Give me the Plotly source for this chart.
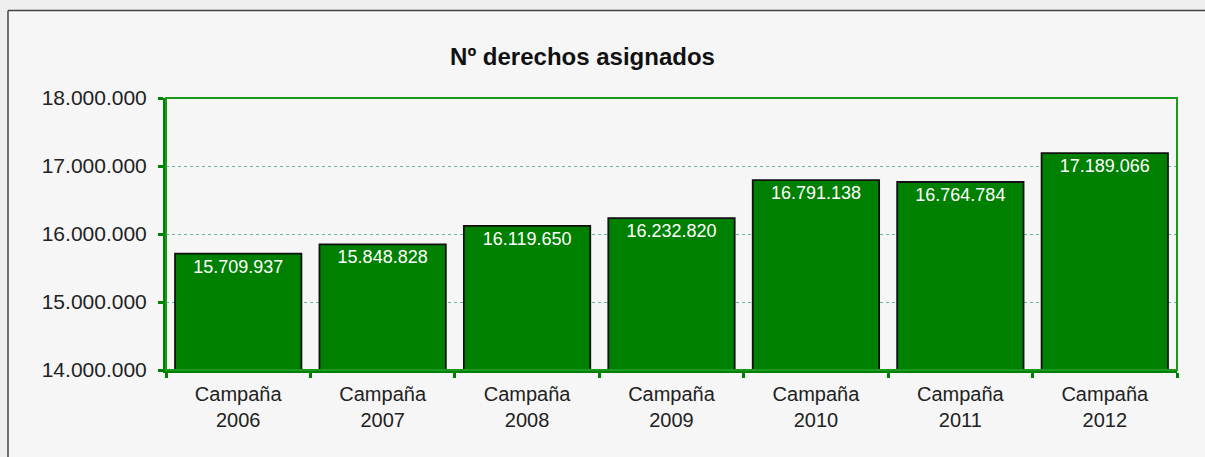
import plotly.graph_objects as go

campaigns = ["Campaña<br>2006", "Campaña<br>2007", "Campaña<br>2008", "Campaña<br>2009",
             "Campaña<br>2010", "Campaña<br>2011", "Campaña<br>2012"]
derechos = [15709937, 15848828, 16119650, 16232820, 16791138, 16764784, 17189066]
y_ticks = [14000000, 15000000, 16000000, 17000000, 18000000]
title_text = "Nº derechos asignados"

W, H = 1205, 457
L, R, T, B = 166, 28, 98, 87
pw, ph = W - L - R, H - T - B

def px_x(px):
    return (px - L) / pw

def px_y(py):
    return (H - B - py) / ph

fig = go.Figure()
fig.add_trace(go.Bar(
    x=campaigns, y=derechos,
    marker=dict(color="#008000", line=dict(color="#111111", width=1.8)),
    texttemplate="%{y:,.0f}", textposition="inside", insidetextanchor="end",
    textangle=0,
    textfont=dict(family="Arial, Liberation Sans", size=18, color="white"),
    hoverinfo="skip",
))

frame_line = dict(color="#444444", width=1.5)
fig.update_layout(
    width=W, height=H,
    margin=dict(l=L, r=R, t=T, b=B, autoexpand=False),
    paper_bgcolor="#efefef",
    plot_bgcolor="rgba(255,255,255,0.6)",
    separators=",.",
    bargap=0.125,
    showlegend=False,
    font=dict(family="Arial, Liberation Sans", color="#222222"),
    title=dict(text="<b>" + title_text + "</b>", x=582.5 / W, xanchor="center",
               y=1 - 57 / H, yanchor="middle",
               font=dict(size=24, color="#111111", family="Arial, Liberation Sans")),
    shapes=[
        dict(type="rect", xref="paper", yref="paper", layer="below",
             x0=px_x(8), x1=px_x(1205), y0=px_y(457), y1=px_y(10.5),
             fillcolor="#f6f6f6", line=dict(width=0)),
        dict(type="line", xref="paper", yref="paper", layer="below",
             x0=px_x(8), x1=px_x(1205), y0=px_y(10.5), y1=px_y(10.5), line=frame_line),
        dict(type="line", xref="paper", yref="paper", layer="below",
             x0=px_x(8), x1=px_x(8), y0=px_y(10.5), y1=px_y(457), line=frame_line),
        dict(type="rect", xref="paper", yref="paper", layer="above",
             x0=0, x1=1, y0=0, y1=1,
             line=dict(color="#1a9a1a", width=2)),
    ],
)

fig.update_yaxes(
    range=[14000000, 18000000], tickvals=y_ticks, tickformat=",.0f",
    showline=True, linecolor="#008000", linewidth=3,
    ticks="outside", ticklen=5, tickwidth=3, tickcolor="#008000",
    showgrid=True, gridcolor="#6fb59a", griddash="dot", gridwidth=1,
    zeroline=False, ticklabelstandoff=7,
    tickfont=dict(size=21, color="#222222"),
)
fig.update_xaxes(
    type="category", tickson="boundaries",
    showline=True, linecolor="#008000", linewidth=3,
    ticks="outside", ticklen=5, tickwidth=3, tickcolor="#008000",
    showgrid=False, ticklabelstandoff=4,
    tickfont=dict(size=20, color="#222222"),
)

fig.write_html("out.html", config={"displayModeBar": False},
               post_script="document.body.style.margin='0';document.body.style.overflow='hidden';")
